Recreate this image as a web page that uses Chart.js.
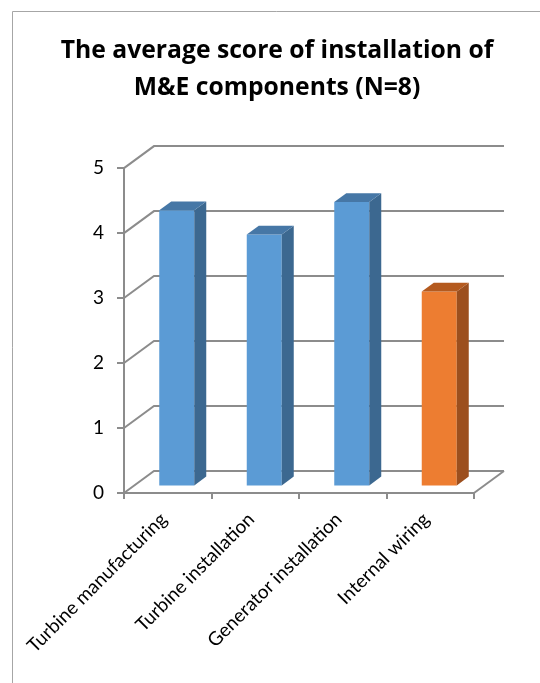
<!DOCTYPE html>
<html>
<head>
<meta charset="utf-8">
<script src="https://cdn.jsdelivr.net/npm/chart.js@4"></script>
<style>
  html, body { margin: 0; padding: 0; background: #fff; }
  canvas { display: block; }
</style>
</head>
<body>
<canvas id="chart" width="540" height="683"></canvas>
<script>
// data (N=8, so eighths)
const categories = ['Turbine manufacturing', 'Turbine installation', 'Generator installation', 'Internal wiring'];
const scores = [4.25, 3.875, 4.375, 3.0];
const yTicks = [0, 1, 2, 3, 4, 5];

// colours: front / side / top of each bar
const frontColors = ['#5b9bd5', '#5b9bd5', '#5b9bd5', '#ed7d31'];
const sideColors = ['#3c6890', '#3c6890', '#3c6890', '#9c4f1e'];
const topColors = ['#4677a6', '#4677a6', '#4677a6', '#b45a1f'];

const lineGray = '#8c8c8c';
const FONT = 'Lato, "Open Sans", sans-serif';

// depth of the 3d box, and where the bars sit inside it
const wallDx = 30, wallDy = -22;
const barDx = 9, barDy = -6.6;
const barDepthX = 12, barDepthY = -8.8;

const box3d = {
  id: 'box3d',
  beforeDraw(chart) {
    const ctx = chart.ctx;
    ctx.save();
    ctx.fillStyle = '#fff';
    ctx.fillRect(0, 0, chart.width, chart.height);
    ctx.strokeStyle = '#a6a6a6';
    ctx.lineWidth = 1;
    ctx.beginPath();
    ctx.moveTo(12.5, chart.height);
    ctx.lineTo(12.5, 11.5);
    ctx.lineTo(chart.width, 11.5);
    ctx.stroke();
    ctx.restore();
  },
  beforeDatasetsDraw(chart) {
    const ctx = chart.ctx;
    const a = chart.chartArea;
    const y = chart.scales.y;
    ctx.save();
    ctx.strokeStyle = lineGray;
    ctx.lineWidth = 2;
    // back wall gridlines + left wall diagonals
    yTicks.forEach(v => {
      const py = y.getPixelForValue(v);
      ctx.beginPath();
      ctx.moveTo(a.left, py);
      ctx.lineTo(a.left + wallDx, py + wallDy);
      ctx.lineTo(a.right + wallDx, py + wallDy);
      ctx.stroke();
    });
    // floor right edge
    ctx.beginPath();
    ctx.moveTo(a.right, a.bottom);
    ctx.lineTo(a.right + wallDx, a.bottom + wallDy);
    ctx.stroke();
    ctx.restore();
    // bars sit a little way into the box
    ctx.save();
    ctx.translate(barDx, barDy);
  },
  afterDatasetsDraw(chart) {
    const ctx = chart.ctx;
    ctx.restore();
    const meta = chart.getDatasetMeta(0);
    ctx.save();
    meta.data.forEach((bar, i) => {
      const p = bar.getProps(['x', 'y', 'base', 'width'], true);
      const left = p.x - p.width / 2 + barDx;
      const right = p.x + p.width / 2 + barDx;
      const top = p.y + barDy;
      const bottom = p.base + barDy;
      // side
      ctx.fillStyle = sideColors[i];
      ctx.beginPath();
      ctx.moveTo(right, top);
      ctx.lineTo(right + barDepthX, top + barDepthY);
      ctx.lineTo(right + barDepthX, bottom + barDepthY);
      ctx.lineTo(right, bottom);
      ctx.closePath();
      ctx.fill();
      // top
      ctx.fillStyle = topColors[i];
      ctx.beginPath();
      ctx.moveTo(left, top);
      ctx.lineTo(left + barDepthX, top + barDepthY);
      ctx.lineTo(right + barDepthX, top + barDepthY);
      ctx.lineTo(right, top);
      ctx.closePath();
      ctx.fill();
    });
    ctx.restore();
  }
};

new Chart(document.getElementById('chart'), {
  type: 'bar',
  data: {
    labels: categories,
    datasets: [{
      data: scores,
      backgroundColor: frontColors,
      borderWidth: 0,
      categoryPercentage: 1,
      barPercentage: 0.4
    }]
  },
  options: {
    responsive: false,
    animation: false,
    layout: { padding: { left: 14, right: 0, top: 0, bottom: 0 } },
    plugins: {
      legend: { display: false },
      tooltip: { enabled: false },
      title: {
        display: true,
        text: ['The average score of installation of', 'M&E components (N=8)'],
        color: '#000',
        font: { family: '"Open Sans", Lato, sans-serif', size: 24.7, weight: 'bold', lineHeight: 1.5 },
        padding: { top: 32, bottom: 62 }
      }
    },
    scales: {
      x: {
        grid: { display: true, drawOnChartArea: false, drawTicks: true, tickLength: 6, color: lineGray, lineWidth: 2 },
        border: { display: true, color: lineGray, width: 2 },
        ticks: { color: '#000', font: { family: FONT, size: 19 }, minRotation: 45, maxRotation: 45, padding: 9, labelOffset: -4 },
        afterFit(scale) { scale.height = 190; }
      },
      y: {
        min: 0,
        max: 5,
        grid: { display: true, drawOnChartArea: false, drawTicks: true, tickLength: 7, color: lineGray, lineWidth: 2 },
        border: { display: true, color: lineGray, width: 2 },
        ticks: { color: '#000', stepSize: 1, font: { family: FONT, size: 19 }, padding: 13 },
        afterFit(scale) { scale.width = 110; }
      },
      // empty right-hand scale: keeps room for the back wall
      yRight: {
        position: 'right',
        min: 0,
        max: 5,
        grid: { display: false },
        border: { display: false },
        ticks: { display: false },
        afterFit(scale) { scale.width = 66; }
      }
    }
  },
  plugins: [box3d]
});
</script>
</body>
</html>
